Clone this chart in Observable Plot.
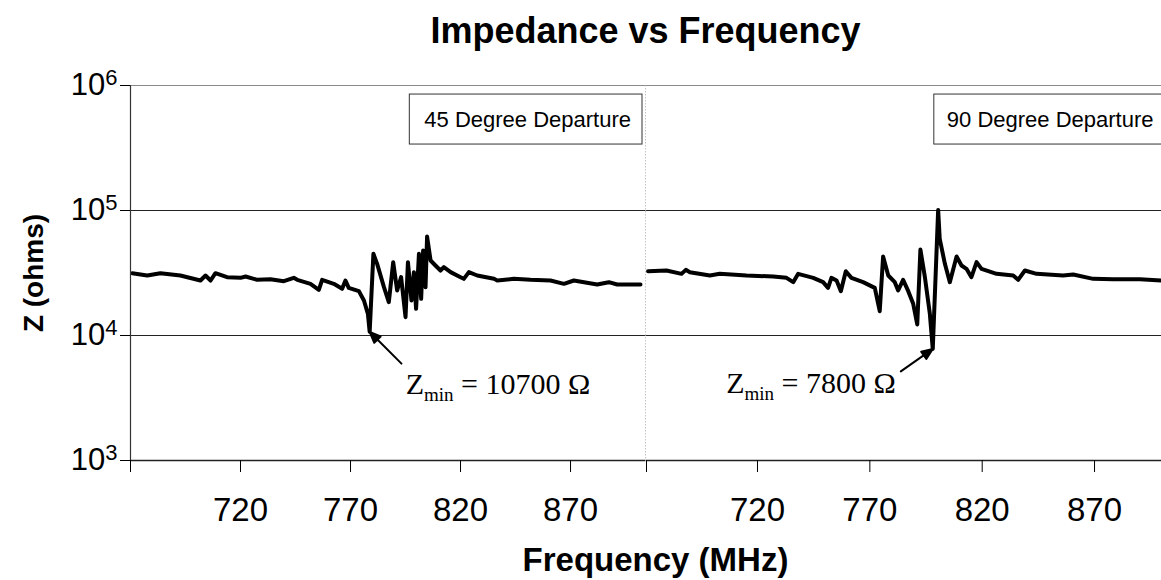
<!DOCTYPE html>
<html>
<head>
<meta charset="utf-8">
<script src="https://cdn.jsdelivr.net/npm/d3@7"></script>
<script src="https://cdn.jsdelivr.net/npm/@observablehq/plot@0.6"></script>
<style>
  html, body { margin: 0; padding: 0; background: #fff; }
  body { width: 1161px; height: 580px; overflow: hidden; position: relative; font-family: "Liberation Sans", Arial, sans-serif; }
  #title { position: absolute; left: 130px; top: 0; width: 1031px; height: 62px; line-height: 62px; text-align: center; font-weight: bold; font-size: 36px; }
  #chart { position: absolute; left: 0; top: 62px; display: flex; align-items: flex-start; }
  #xlabel { position: absolute; left: 140px; top: 535px; width: 1031px; line-height: 50px; text-align: center; font-weight: bold; font-size: 33px; }
</style>
</head>
<body>
<div id="title">Impedance vs Frequency</div>
<div id="chart"></div>
<div id="xlabel">Frequency (MHz)</div>
<script>
// ---- data ----
const panels = ["45 Degree Departure", "90 Degree Departure"];

const freq45 = [670.8, 677.6, 683.6, 692.7, 701.8, 704.1, 706.4, 708.6, 713.9, 720.0, 722.3, 727.6, 733.6, 739.7, 744.2, 745.8, 751.8, 755.6, 757.1, 762.4, 766.2, 767.7, 769.2, 773.8, 776.1, 777.9, 778.7, 780.4, 782.1, 785.2, 787.4, 789.4, 791.2, 793.0, 795.0, 796.1, 797.7, 798.8, 799.8, 801.1, 802.1, 803.0, 804.1, 804.8, 806.4, 808.6, 810.9, 812.4, 815.5, 820.0, 821.5, 823.8, 827.6, 835.2, 836.7, 844.2, 851.8, 860.9, 867.0, 871.5, 882.1, 887.4, 891.2, 901.8];
const z45 = [31530, 30200, 31530, 30200, 27540, 30200, 27540, 31530, 29290, 28920, 29650, 27880, 28220, 27200, 28920, 27880, 25900, 23190, 27880, 25900, 23620, 27540, 24060, 22630, 19050, 14910, 10700, 45020, 37440, 24360, 18480, 38610, 22910, 29290, 14020, 38610, 19050, 32120, 16350, 45020, 19650, 47860, 24360, 61940, 39810, 36310, 33110, 35220, 32120, 29290, 28400, 32120, 30200, 28400, 27540, 28400, 27880, 27540, 25900, 27540, 25590, 26710, 25590, 25590];

const freq90 = [671.3, 679.5, 686.2, 688.1, 689.9, 698.8, 703.2, 715.1, 727.0, 732.9, 735.9, 738.1, 744.8, 749.2, 751.4, 752.9, 755.2, 757.1, 759.3, 761.8, 767.0, 772.2, 774.4, 775.9, 778.2, 781.1, 782.6, 784.8, 787.1, 789.3, 791.1, 792.5, 794.5, 796.7, 798.0, 800.4, 801.1, 803.4, 805.6, 808.6, 810.8, 813.0, 815.2, 817.5, 819.7, 826.4, 833.8, 836.0, 839.0, 844.2, 856.0, 860.5, 869.4, 878.3, 890.2, 899.8];
const z90 = [32710, 33110, 31140, 33520, 32120, 30200, 31140, 30200, 29650, 28920, 26710, 31140, 28920, 26710, 24060, 28920, 27540, 22630, 32710, 28920, 26710, 24060, 15650, 42850, 30200, 26710, 22910, 27880, 22630, 17920, 12250, 48750, 29290, 14910, 7800, 101000, 59330, 37440, 26710, 42850, 36310, 34150, 29290, 38610, 34150, 31140, 30200, 27880, 33110, 31140, 30200, 30760, 28400, 28220, 28220, 27540];

const zMinFreq = [778.7, 798.0];
const zMinValue = [10700, 7800];
const zMinText = ["Z_min = 10700 Ω", "Z_min = 7800 Ω"];

const xTickValues = [720, 770, 820, 870];
const yTickValues = [1e3, 1e4, 1e5, 1e6];
const yTickLabels = ["10^3", "10^4", "10^5", "10^6"];

// ---- styling ----
const sans = "'Liberation Sans', Arial, Helvetica, sans-serif";
const serif = "'Liberation Serif', 'Times New Roman', serif";

const arrowShape = {
  draw(context, l) {
    context.moveTo(0, 0);
    context.lineTo(0, -l + 6);
    context.moveTo(0, -l);
    context.lineTo(-4.5, -l + 11);
    context.lineTo(4.5, -l + 11);
    context.closePath();
  }
};

const layouts = [
  {width: 646, marginLeft: 130, marginRight: 0.5, domain: [670, 904.3], legendDx: -15,
   textAnchor: "start", labelDx: 36, labelDy: 62, arrowLength: 45, arrowRotate: -45},
  {width: 515, marginLeft: 0, marginRight: 0, domain: [670.6, 899.8], legendDx: -8,
   textAnchor: "end", labelDx: -37, labelDy: 44.5, arrowLength: 39, arrowRotate: 55}
];

function makePanel(i) {
  const L = layouts[i];
  const freq = i === 0 ? freq45 : freq90;
  const z = i === 0 ? z45 : z90;
  const marks = [
    Plot.ruleY([yTickValues[3]], {stroke: "#8a8a8a", strokeWidth: 1}),
    Plot.ruleY(yTickValues.slice(1, 3), {stroke: "#222", strokeWidth: 1.2}),
    Plot.ruleY([yTickValues[0]], {stroke: "#222", strokeWidth: 1.5}),
    Plot.ruleX([L.domain[1]], {stroke: "#888", strokeDasharray: "1.5,1.5"}),
    Plot.line(z, {x: freq, y: z, stroke: "black", strokeWidth: 4, strokeLinejoin: "round", strokeLinecap: "round"}),
    Plot.axisX({ticks: [L.domain[0], ...xTickValues],
      tickFormat: d => xTickValues.includes(d) ? String(d) : "",
      tickSize: 12, tickPadding: 25, fontSize: 33, label: null}),
    Plot.text([panels[i]], {text: d => d, frameAnchor: "top-right", textAnchor: "end", lineAnchor: "middle",
      dx: L.legendDx, dy: 34, fontSize: 22, fontFamily: sans, fill: "black"}),
    Plot.text([i], {x: j => zMinFreq[j], y: j => zMinValue[j], text: j => zMinText[j],
      textAnchor: L.textAnchor, lineAnchor: "bottom", dx: L.labelDx, dy: L.labelDy,
      fontSize: 30, fontFamily: serif, fill: "black"}),
    Plot.vector([i], {x: j => zMinFreq[j], y: j => zMinValue[j], length: L.arrowLength, rotate: L.arrowRotate,
      anchor: "end", shape: arrowShape, stroke: "black", fill: "black", strokeWidth: 2})
  ];
  if (i === 0) {
    marks.push(
      Plot.ruleX([L.domain[0]], {stroke: "#333", strokeWidth: 1.2}),
      Plot.axisY({ticks: yTickValues, tickFormat: d => yTickLabels[yTickValues.indexOf(d)],
        tickSize: 10, tickPadding: 3, fontSize: 31, label: null}),
      Plot.text(["Z (ohms)"], {text: d => d, frameAnchor: "left", rotate: -90, dx: -96,
        textAnchor: "middle", lineAnchor: "middle", fontSize: 28, fontWeight: "bold", fill: "black"})
    );
  }
  return Plot.plot({
    width: L.width,
    height: 468,
    marginTop: 23,
    marginBottom: 70,
    marginLeft: L.marginLeft,
    marginRight: L.marginRight,
    style: {fontFamily: sans, background: "white", overflow: "visible", color: "black"},
    x: {domain: L.domain},
    y: {type: "log", domain: [yTickValues[0], yTickValues[3]], axis: null},
    marks
  });
}

const chart = document.getElementById("chart");
const svgs = [makePanel(0), makePanel(1)];
svgs.forEach(s => chart.appendChild(s));

const NS = "http://www.w3.org/2000/svg";
function tspan(text, attrs) {
  const t = document.createElementNS(NS, "tspan");
  t.textContent = text;
  for (const k in attrs) t.setAttribute(k, attrs[k]);
  return t;
}
svgs.forEach((svg, i) => {
  svg.querySelectorAll("text").forEach(t => {
    const s = t.textContent;
    if (panels.includes(s)) {
      // box around the panel label
      const b = t.getBBox();
      const r = document.createElementNS(NS, "rect");
      const padL = i === 0 ? 15 : 13;
      r.setAttribute("x", b.x - padL);
      r.setAttribute("y", b.y + b.height / 2 - 25);
      r.setAttribute("width", b.width + padL + 11);
      r.setAttribute("height", 50);
      r.setAttribute("fill", "white");
      r.setAttribute("stroke", "#333");
      r.setAttribute("stroke-width", 1);
      if (t.getAttribute("transform")) r.setAttribute("transform", t.getAttribute("transform"));
      t.parentNode.insertBefore(r, t);
    } else if (/^\S+_\w+ /.test(s)) {
      // subscript (Z_min)
      const m = s.match(/^(.*?)_(\w+)(.*)$/);
      t.textContent = "";
      t.append(tspan(m[1]), tspan(m[2], {"font-size": 19, dy: 7}), tspan(m[3], {dy: -7}));
    } else if (/^10\^\d$/.test(s)) {
      // superscript exponent
      const [base, exp] = s.split("^");
      t.textContent = "";
      t.append(tspan(base), tspan(exp, {"font-size": 22, dy: -10}));
    }
  });
});
</script>
</body>
</html>
